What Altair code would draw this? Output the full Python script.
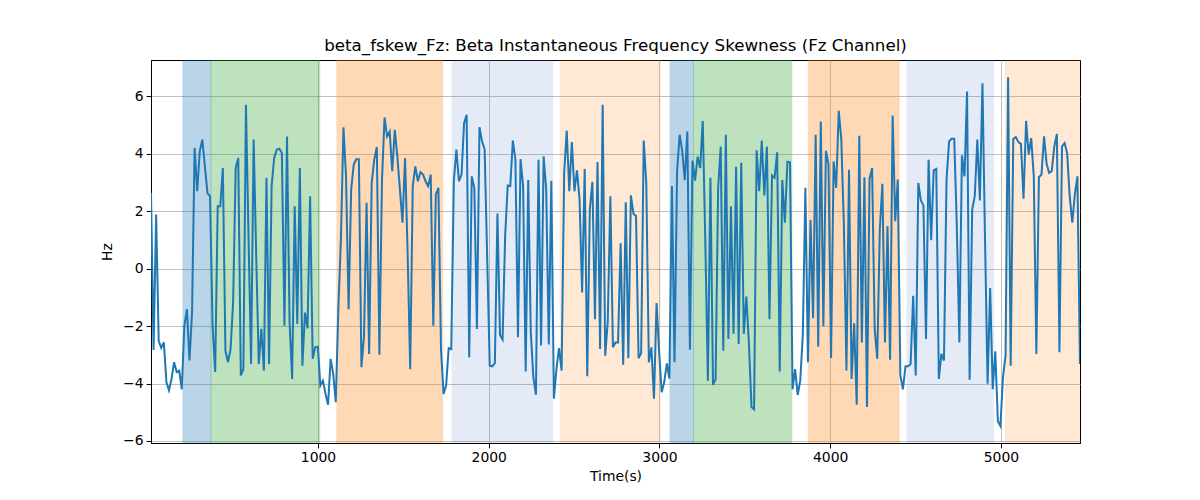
import altair as alt
import pandas as pd

# samples are evenly spaced in time
T_START = 22.0
T_STEP = 15.03

fskew_hz = [
    2.64, -2.83, 1.88, -2.51, -2.76, -2.57, -3.95, -4.24, -3.84, -3.26,
    -3.6, -3.55, -4.2, -1.99, -1.41, -3.2, -1.5, 4.2, 2.69, 4.08,
    4.49, 3.56, 2.63, 2.52, -1.99, -3.6, 2.17, 2.17, 3.5, -2.86,
    -3.26, -2.8, -1.18, 3.5, 3.85, -3.72, -3.5, 5.7, 1.13, -3.32,
    4.49, 0.44, -3.32, -2.1, -3.55, 3.16, -3.32, 2.87, 3.85, 4.14,
    4.17, 4.02, -1.99, 4.6, -1.87, -3.84, 2.17, -1.93, 3.5, -3.38,
    -1.53, -2.08, 2.52, -3.14, -2.74, -2.72, -4.07, -3.9, -4.36, -4.74,
    -3.14, -3.66, -4.65, -1.41, 1.0, 4.92, 3.2, -1.41, 2.75, 3.62,
    3.81, 3.81, -3.43, -2.34, 2.29, -2.97, 2.98, 3.79, 4.23, -3.0,
    3.04, 5.26, 4.6, 4.77, 3.39, 4.83, 3.9, 2.75, 1.6, 3.85,
    0.55, -3.5, 2.87, 3.56, 3.04, 3.36, 3.27, 3.04, 2.87, 3.27,
    -1.99, 2.58, 2.81, -2.8, -4.36, -4.07, -2.77, -2.8, 3.04, 4.14,
    3.04, 3.27, 5.06, 5.35, -3.09, 3.21, 2.81, -2.1, 4.92,
    4.43, 4.16, 0.4, -3.38, -3.4, -3.29, 1.92, -2.31, -2.47, 1.13,
    2.89, 2.87, 4.46, 3.79, -2.39, 3.81, 2.87, -3.58, 3.08, -2.22,
    -3.78, -4.39, 3.79, -2.68, 3.91, 2.75, -2.64, 3.06, -4.53, -3.49,
    -2.77, -3.55, 3.33, 4.8, 2.69, 4.4, 2.69, 3.42, 2.4, -0.83,
    3.47, -3.75, 2.06, 3.02, -1.76, 3.71, -2.8, 5.7, -3.03, -1.82,
    2.52, -2.74, -2.57, -2.57, 0.88, -3.35, 2.31, -3.12, 2.55, 1.91,
    1.83, -3.12, -2.94, 4.46, 2.98, -3.26, -2.74, -4.53, -1.2, -2.9,
    -4.3, -3.95, -3.3, -3.83, 2.87, -3.26, 3.39, 4.66, 4.1, 3.08,
    4.77, -2.82, 3.76, 3.06, 3.9, 3.5, 5.14, 0.96, -3.9, 3.16,
    -4.05, -3.85, 2.8, 4.25, -2.86, 4.66, -2.45, 2.17, -2.27, 3.54,
    -2.62, 3.68, -2.27, -0.97, -2.62, -4.82, -4.9, 4.12, 2.69, 4.46,
    2.55, 4.25, -1.76, 3.24, 3.16, 4.05, -3.58, 3.08, 1.6, 3.72,
    3.7, -4.2, -3.5, -4.4,
    -3.9, -2.3, 2.81, -3.26, 1.69, -1.73, 4.66, -2.72, 5.12, -2.01,
    4.1, 3.62, -3.11, 3.73, 2.81, 5.49, 4.49, 1.5, -3.55, 3.44,
    -3.84, -1.9, -4.74, 4.62, -2.57, 3.18, -4.82, 3.12, 3.5, -2.1,
    -3.14, 1.36, 2.95, -2.57, 1.48, -3.17, 5.33, 1.65, 3.1, -3.72,
    -4.2, -3.4, -3.4, -3.32, -0.95, -3.72, 2.98, 2.37, 2.2, -2.45,
    3.79, 0.99, 3.42, 3.47, -3.84, -2.97, -3.2, 3.1, 4.43, 4.52,
    4.52, 1.5, -2.57, 3.94, 3.21, 6.16, -3.87, 2.06, 2.52, 4.49,
    2.37, 6.45, 1.0, -4.01, -0.68, -4.2, -2.88, -5.31, -5.48, -3.78,
    -3.03, 6.66, -3.38, 4.51, 4.58, 4.4, 4.34, 2.43, 5.14, 3.97,
    4.54, 3.21, -2.97, 3.18, 3.27, 4.6, 3.65, 3.33, 3.39, 4.25,
    4.69, -2.91, 4.25, 4.37, 4.02, 2.52, 1.6, 2.58, 3.21, -3.32,
]

span_start = [209, 373, 1111, 1785, 2418, 3062, 3199, 3872, 4450, 5026]
span_end = [373, 1010, 1730, 2375, 3003, 3199, 3775, 4403, 4958, 5470]
span_color = ['#1f77b4', '#2ca02c', '#ff7f0e', '#5280ca', '#ff7f0e',
              '#1f77b4', '#2ca02c', '#ff7f0e', '#5280ca', '#ff7f0e']
span_alpha = [0.3, 0.3, 0.3, 0.15, 0.17, 0.3, 0.3, 0.3, 0.15, 0.17]

x_ticks = [1000, 2000, 3000, 4000, 5000]
y_ticks = [-6, -4, -2, 0, 2, 4, 6]

series = pd.DataFrame({
    'time': [T_START + i * T_STEP for i in range(len(fskew_hz))],
    'hz': fskew_hz,
})
spans_df = pd.DataFrame({'start': span_start, 'end': span_end,
                         'color': span_color, 'alpha': span_alpha})

x_scale = alt.Scale(domain=[22, 5463], nice=False, zero=False)
y_scale = alt.Scale(domain=[-6.07, 7.26], nice=False, zero=False)
x_axis = alt.Axis(values=x_ticks, format='d', title='Time(s)')
y_axis = alt.Axis(values=y_ticks, format='d', title='Hz')

spans = alt.Chart(spans_df).mark_rect(clip=True, strokeWidth=1).encode(
    x=alt.X('start:Q', scale=x_scale, axis=x_axis),
    x2='end:Q',
    fill=alt.Fill('color:N', scale=None),
    stroke=alt.Stroke('color:N', scale=None),
    opacity=alt.Opacity('alpha:Q', scale=None),
)

line = alt.Chart(series).mark_line(color='#1f77b4', strokeWidth=2, clip=True).encode(
    x=alt.X('time:Q', scale=x_scale, axis=x_axis),
    y=alt.Y('hz:Q', scale=y_scale, axis=y_axis),
)

chart = (spans + line).properties(
    width=929, height=383,
    autosize=alt.AutoSizeParams(type='none'),
    padding={'left': 143, 'top': 52, 'right': 110, 'bottom': 48},
    title=alt.TitleParams(
        'beta_fskew_Fz: Beta Instantaneous Frequency Skewness (Fz Channel)',
        fontSize=16.7, fontWeight='normal', font='DejaVu Sans',
        color='black', anchor='middle', offset=5,
    ),
).configure_view(
    stroke='black', strokeWidth=1
).configure_axis(
    labelFont='DejaVu Sans', titleFont='DejaVu Sans',
    labelFontSize=13.9, titleFontSize=13.9, titleFontWeight='normal',
    labelColor='black', titleColor='black',
    grid=True, gridColor='#b0b0b0', gridWidth=0.8,
    domainColor='black', tickColor='black', tickSize=4.9, labelPadding=3,
).configure_axisX(
    titlePadding=5,
).configure_axisY(
    titlePadding=8,
)

chart.save("out.html", embed_options={"renderer": "svg", "actions": False})
